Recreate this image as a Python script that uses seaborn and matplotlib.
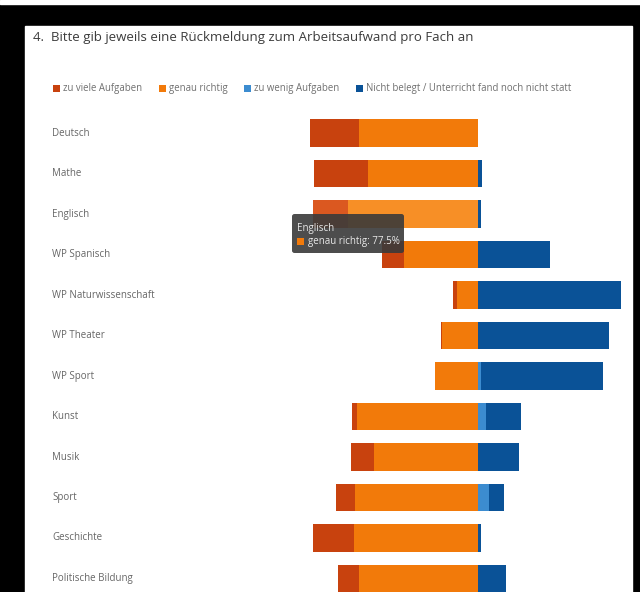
import matplotlib
matplotlib.use('Agg')
import pandas as pd
import seaborn as sns
import matplotlib.pyplot as plt
from matplotlib.patches import Patch, Rectangle, FancyBboxPatch
from matplotlib.transforms import blended_transform_factory

# values in percent
subjects = ['Deutsch', 'Mathe', 'Englisch', 'WP Spanisch', 'WP Naturwissenschaft',
            'WP Theater', 'WP Sport', 'Kunst', 'Musik', 'Sport', 'Geschichte',
            'Politische Bildung']
zu_viele = [28.6, 32.5, 21.2, 13.3, 2.2, 0.8, 0.0, 2.6, 13.9, 11.7, 24.6, 12.7]
genau = [71.4, 65.7, 77.5, 44.4, 12.9, 21.8, 25.6, 72.4, 62.1, 73.4, 74.0, 71.2]
zu_wenig = [0.0, 0.0, 0.0, 0.0, 0.0, 0.0, 1.5, 4.4, 0.0, 6.4, 0.0, 0.0]
nicht_belegt = [0.0, 1.8, 1.3, 42.3, 84.9, 77.4, 72.9, 20.6, 24.0, 8.5, 1.4, 16.1]

series = ['zu viele Aufgaben', 'genau richtig', 'zu wenig Aufgaben',
          'Nicht belegt / Unterricht fand noch nicht statt']
colors = ['#c8420e', '#f27a0a', '#3c8cd0', '#0a5297']

W, H = 640, 592
sns.set_theme(style='white')
plt.rcParams['font.family'] = ['Open Sans', 'DejaVu Sans']

fig = plt.figure(figsize=(W / 100, H / 100), dpi=100)
fig.patch.set_facecolor('black')
# white page inside the black screenshot frame
fig.add_artist(Rectangle((25 / W, 0), (632 - 25) / W, (H - 26) / H,
                         transform=fig.transFigure, facecolor='white', zorder=-5))
fig.add_artist(Rectangle((0, 1 - 4 / H), 1, 4 / H,
                         transform=fig.transFigure, facecolor='white', zorder=-5))

# pixel geometry of the plotting area
center, ppu = 478.5, 1.68
x0, x1, y_top, y_bot = 200, 631, 105, 592
first_row, row_step = 133, 40.5

ax = fig.add_axes([x0 / W, 1 - y_bot / H, (x1 - x0) / W, (y_bot - y_top) / H])
ax.set_facecolor('none')

df = pd.DataFrame({'Fach': subjects, 'zv': zu_viele, 'gr': genau,
                   'zw': zu_wenig, 'nb': nicht_belegt})
layers = [(-(df['zv'] + df['gr']), colors[0]),
          (-df['gr'], colors[1]),
          (df['zw'] + df['nb'], colors[3]),
          (df['zw'], colors[2])]
for vals, c in layers:
    sns.barplot(x=vals, y=df['Fach'], color=c, saturation=1, width=0.667,
                orient='h', errorbar=None, linewidth=0, ax=ax)

# hovered row (Englisch) is drawn a little lighter
ax.containers[0][2].set_facecolor('#db5820')
ax.containers[1][2].set_facecolor('#f78f26')

ax.set_xlim((x0 - center) / ppu, (x1 - center) / ppu)
ax.set_ylim((y_bot - first_row) / row_step, (y_top - first_row) / row_step)
ax.axis('off')

trans = blended_transform_factory(fig.transFigure, ax.transData)
for i, s in enumerate(subjects):
    ax.text(52 / W, i, s, transform=trans, ha='left', va='center',
            fontsize=7.0, color='#666666', clip_on=False)

fig.text(33 / W, 1 - 37 / H,
         '4.  Bitte gib jeweils eine Rückmeldung zum Arbeitsaufwand pro Fach an',
         fontsize=9.5, color='#3c3c3c', va='center', ha='left')

handles = [Patch(facecolor=c, edgecolor='none') for c in colors]
fig.legend(handles, series, loc='center left', bbox_to_anchor=(44 / W, 1 - 89 / H),
           ncol=4, frameon=False, fontsize=6.9, handlelength=0.75, handleheight=0.75,
           handletextpad=0.3, columnspacing=1.75, labelcolor='#707070')

# tooltip
fig.add_artist(FancyBboxPatch((292 / W, 1 - 253 / H), 112 / W, 39 / H,
                              boxstyle='round,pad=0,rounding_size=0.004',
                              transform=fig.transFigure, facecolor='#3a3a3a',
                              edgecolor='none', alpha=0.9, zorder=10))
fig.text(297 / W, 1 - 228 / H, 'Englisch', fontsize=7, color='#e8e8e8',
         va='center', ha='left', zorder=11)
fig.add_artist(Rectangle((297 / W, 1 - 245 / H), 7 / W, 7 / H,
                         transform=fig.transFigure, facecolor=colors[1],
                         edgecolor='none', zorder=11))
fig.text(308 / W, 1 - 241.5 / H, f'genau richtig: {genau[2]}%', fontsize=7,
         color='#e8e8e8', va='center', ha='left', zorder=11)

fig.savefig('out.png', dpi=100, facecolor=fig.get_facecolor())
